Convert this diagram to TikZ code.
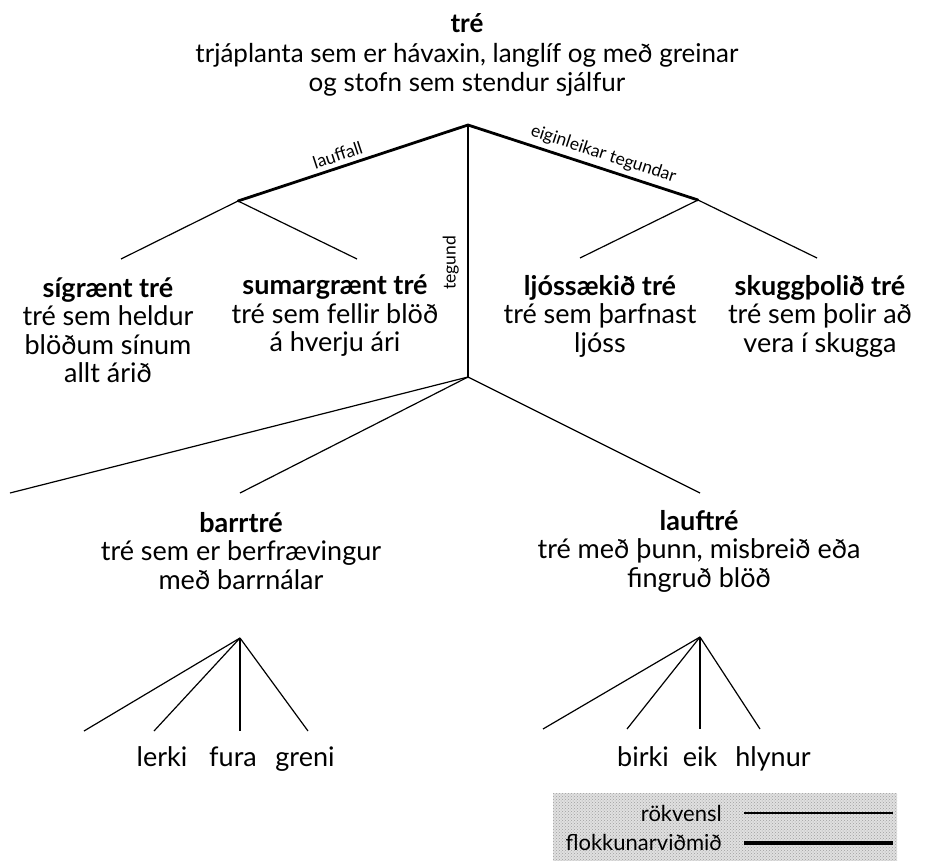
\documentclass[tikz,border=0pt]{standalone}
\usepackage{fontspec}
\setmainfont{Lato}
\usetikzlibrary{patterns}
\begin{document}
\begin{tikzpicture}[x=1pt,y=-1pt,
  toptxt/.style={align=center,font=\fontsize{26}{29.5}\selectfont,inner sep=0pt},
  txt/.style={align=center,font=\fontsize{27}{28.5}\selectfont,inner sep=0pt},
  leaf/.style={font=\fontsize{27}{28.5}\selectfont,inner sep=0pt,anchor=base},
  lbl/.style={font=\fontsize{17.5}{19}\selectfont,inner sep=4.5pt},
  lgd/.style={font=\fontsize{22}{24}\selectfont,inner sep=0pt},
  crit/.style={line width=2.8pt,line cap=round,line join=round},
  rel/.style={line width=1.2pt}]
\useasboundingbox (0,0) rectangle (937,861);
\fill[white] (0,0) rectangle (937,861);

% texts
\node[toptxt] (tre) at (467,55) {\textbf{tré}\\trjáplanta sem er hávaxin, langlíf og með greinar\\og stofn sem stendur sjálfur};
\node[txt] (sig) at (108,330) {\textbf{sígrænt tré}\\tré sem heldur\\blöðum sínum\\allt árið};
\node[txt] (sum) at (335,316) {\textbf{sumargrænt tré}\\tré sem fellir blöð\\á hverju ári};
\node[txt] (ljos) at (600,316) {\textbf{ljóssækið tré}\\tré sem þarfnast\\ljóss};
\node[txt] (skugg) at (820,316) {\textbf{skuggþolið tré}\\tré sem þolir að\\vera í skugga};
\node[txt] (barr) at (241,551) {\textbf{barrtré}\\tré sem er berfrævingur\\með barrnálar};
\node[txt] (lauf) at (699,551) {\textbf{lauftré}\\tré með þunn, misbreið eða\\fingruð blöð};
\node[leaf] (lerki) at (162,766) {lerki};
\node[leaf] (fura) at (233,766) {fura};
\node[leaf] (greni) at (305,766) {greni};
\node[leaf] (birki) at (643,766) {birki};
\node[leaf] (eik) at (700,766) {eik};
\node[leaf] (hlynur) at (773,766) {hlynur};

% branch points
\coordinate (r) at (468,125);
\coordinate (bl) at (238,201);
\coordinate (br) at (698,200);
\coordinate (bv) at (468,377);
\coordinate (l1) at (121,259);
\coordinate (l2) at (357,259);
\coordinate (r1) at (580,258);
\coordinate (r2) at (817,258);
\coordinate (v0) at (10,493);
\coordinate (v1) at (240,493);
\coordinate (v2) at (700,493);
\coordinate (fa) at (240,638);
\coordinate (fa1) at (84,731);
\coordinate (fa2) at (154,731);
\coordinate (fa3) at (240,731);
\coordinate (fa4) at (308,731);
\coordinate (fb) at (700,637);
\coordinate (fb1) at (543,729);
\coordinate (fb2) at (627,729);
\coordinate (fb3) at (700,729);
\coordinate (fb4) at (760,729);

% criteria (thick)
\draw[crit] (bl) -- node[lbl,above,sloped,pos=0.45] {lauffall} (r);
\draw[crit] (r) -- node[lbl,above,sloped,pos=0.57] {eiginleikar tegundar} (br);
\draw[crit] (r) -- (bv);
\node[lbl,rotate=90,anchor=south,inner sep=2pt] (teg) at (461,263) {tegund};

% relations (thin)
\draw[rel] (bl) -- (l1);
\draw[rel] (bl) -- (l2);
\draw[rel] (br) -- (r1);
\draw[rel] (br) -- (r2);
\draw[rel] (bv) -- (v0);
\draw[rel] (bv) -- (v1);
\draw[rel] (bv) -- (v2);
\foreach \e in {fa1,fa2,fa3,fa4} \draw[rel] (fa) -- (\e);
\foreach \e in {fb1,fb2,fb3,fb4} \draw[rel] (fb) -- (\e);

% legend
\fill[gray!24] (553,793) rectangle (897,861);
\fill[pattern=crosshatch dots,pattern color=gray!75] (553,793) rectangle (897,861);
\node[lgd,anchor=east] (rok) at (722,813) {rökvensl};
\node[lgd,anchor=east] (flo) at (722,842) {flokkunarviðmið};
\coordinate (rokend) at (893,813);
\coordinate (floend) at (893,843);
\draw[rel] ([xshift=22pt]rok.east) -- (rokend);
\draw[line width=3.6pt] ([xshift=22pt]flo.east |- floend) -- (floend);
\end{tikzpicture}
\end{document}
